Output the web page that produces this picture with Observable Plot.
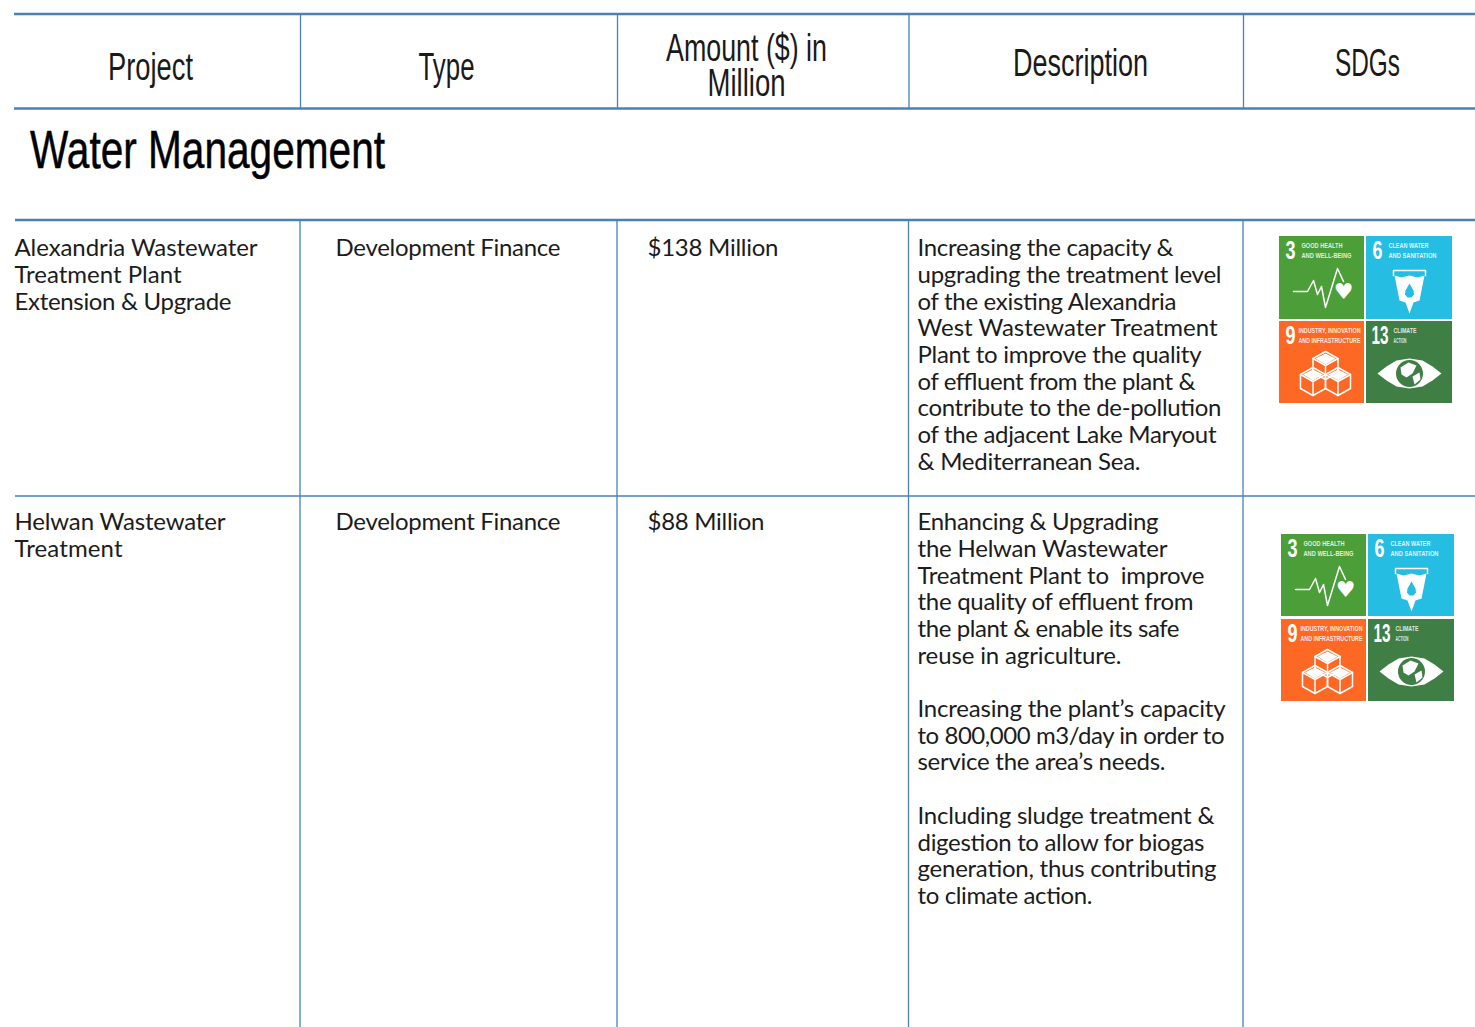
<!DOCTYPE html>
<html><head><meta charset="utf-8">
<style>html,body{margin:0;padding:0;background:#fff}svg{display:block}</style>
<script src="https://cdn.jsdelivr.net/npm/d3@7"></script>
<script src="https://cdn.jsdelivr.net/npm/@observablehq/plot@0.6"></script>
</head><body><div id="chart"></div>
<script>
const headers = ["Project","Type","Amount ($) in","Million","Description","SDGs"];
const section = "Water Management";
const project1 = ["Alexandria Wastewater","Treatment Plant","Extension & Upgrade"];
const type1 = ["Development Finance"];
const amount1 = ["$138 Million"];
const desc1 = ["Increasing the capacity &","upgrading the treatment level","of the existing Alexandria","West Wastewater Treatment","Plant to improve the quality","of effluent from the plant &","contribute to the de-pollution","of the adjacent Lake Maryout","& Mediterranean Sea."];
const project2 = ["Helwan Wastewater","Treatment"];
const type2 = ["Development Finance"];
const amount2 = ["$88 Million"];
const desc2 = ["Enhancing & Upgrading","the Helwan Wastewater","Treatment Plant to  improve","the quality of effluent from","the plant & enable its safe","reuse in agriculture.","","Increasing the plant\u2019s capacity","to 800,000 m3/day in order to","service the area\u2019s needs.","","Including sludge treatment &","digestion to allow for biogas","generation, thus contributing","to climate action."];
const sdgNumbers = ["3","6","9","13"];
const sdgLine1 = ["GOOD HEALTH","CLEAN WATER","INDUSTRY, INNOVATION","CLIMATE"];
const sdgLine2 = ["AND WELL-BEING","AND SANITATION","AND INFRASTRUCTURE","ACTION"];
const sdgColors = ["#4c9f38","#26bde2","#fd6925","#3f7e44"];

// layout of the table page: right-hand ends of every text line, then tile metrics
const W=1475,H=1027,blue="#4a80b8",ink="#1c1c1c",body="Lato";
const narrow="'Liberation Sans Narrow','Liberation Sans'";
const colLines=[300,617,908.5,1243];
const step=26.7;
const endsP1=[257,181,231],endsT=[560],endsA1=[778],endsD1=[1173,1221,1176,1217,1201,1195,1221,1216,1140];
const endsP2=[225,122],endsA2=[764],endsD2=[1158,1167,1204,1193,1179,1121,0,1225,1224,1165,0,1214,1204,1216,1092];
const textCol=(lines,ends,x,y0)=>lines.map((t,i)=>({t,x,y:y0+i*step,w:ends[i]-x})).filter(d=>d.t);
const bodyRows=[
 ...textCol(project1,endsP1,14,248),...textCol(type1,endsT,335,248),...textCol(amount1,endsA1,647,248),...textCol(desc1,endsD1,917,248),
 ...textCol(project2,endsP2,14,522),...textCol(type2,endsT,335,522),...textCol(amount2,endsA2,647,522),...textCol(desc2,endsD2,917,522)];
const headRows=[[0,150,67,85],[1,446,67,56],[2,746,48,161],[3,746,83,78],[4,1080,63,135],[5,1367,63,65]]
  .map(([i,x,y,w])=>({t:headers[i],x,y,w}));

const groups=[{x:[1279,1366],y:[236,321],w:[85,86],h:[83,82]},{x:[1281,1368],y:[534,619],w:[85,86],h:[82,82]}];
const numW=[10,10,10,17],capX=[22,22,19,27],cap1W=[41,40,62,23],cap2W=[50,48,62,13];
const tiles=groups.flatMap((g,gi)=>[0,1,2,3].map(k=>({k,gi,x:g.x[k%2],y:g.y[k>>1],w:g.w[k%2],h:g.h[k>>1],fill:sdgColors[k]})));
const at=(t,p)=>({x:t.x+p[0],y:t.y+p[1]});
const shape=(id,pts,t)=>pts.map(p=>({...at(t,p),id:`${t.gi}-${t.k}-${id}`}));
const cubes=[[46,44],[33.5,60],[58.5,60]];
const hex=[[0,-14],[12.5,-7],[12.5,7],[0,14],[-12.5,7],[-12.5,-7],[0,-14]];
const hexIn=[[-12.5,-7],[0,0],[12.5,-7],[0,0],[0,14]];
const faceTop=[[0,-12],[10,-7],[0,-1],[-10,-7]];
const strokeShapes=[],fillWhite=[],eyeWhite=[],dropBlue=[];
for(const t of tiles){
  if(t.k===0) strokeShapes.push(...shape("p",[[14,55],[28,55],[34,44],[38,58],[42,50],[46,71],[58,32],[64,45]],t));
  if(t.k===1){
    strokeShapes.push(...shape("rim",[[27,39],[27,34],[59,34],[59,39]],t));
    fillWhite.push(...shape("g",[[28,39],[35,41],[43,39],[51,41],[58,39],[53,64],[47,66],[43,77],[39,66],[33,64]],t));
    dropBlue.push(...shape("d",[[43,47],[47,54],[47.5,58],[45,61],[41,61],[38.5,58],[39,54]],t));
  }
  if(t.k===2) cubes.forEach((c,i)=>{
    fillWhite.push(...shape("f"+i,faceTop.map(p=>[c[0]+p[0],c[1]+p[1]]),t));
    strokeShapes.push(...shape("h"+i,hex.map(p=>[c[0]+p[0],c[1]+p[1]]),t));
    strokeShapes.push(...shape("i"+i,hexIn.map(p=>[c[0]+p[0],c[1]+p[1]]),t));
  });
  if(t.k===3){
    eyeWhite.push(...shape("e",[[11,52],[20,45],[30,39],[43,37],[56,39],[66,45],[75,52],[66,59],[56,65],[43,67],[30,65],[20,59]],t));
    fillWhite.push(...shape("l1",[[34,46],[42,41],[50,44],[46,52],[40,56],[35,53]],t));
    fillWhite.push(...shape("l2",[[46,55],[53,51],[54,58],[48,63]],t));
  }
}
const globes=tiles.filter(t=>t.k===3).map(t=>at(t,[43,52]));
const hearts=tiles.filter(t=>t.k===0).map(t=>at(t,[64,55]));
const nums=tiles.map(t=>({...at(t,[t.k===3?5:6,14]),t:sdgNumbers[t.k],w:numW[t.k]}));
const cap1=tiles.map(t=>({...at(t,[capX[t.k],9]),t:sdgLine1[t.k],w:cap1W[t.k]}));
const cap2=tiles.map(t=>({...at(t,[capX[t.k],19]),t:sdgLine2[t.k],w:cap2W[t.k]}));

const hRules=[{y:13.5,w:2.6,x1:14},{y:108,w:2.6,x1:14},{y:219.5,w:2.6,x1:15},{y:495.5,w:1.3,x1:15}];
const vRules=colLines.flatMap(x=>[{x,y1:14,y2:108},{x:x-0.5,y1:219,y2:H}]);

const svg=Plot.plot({
  width:W,height:H,margin:0,
  x:{domain:[0,W],range:[0,W],axis:null},
  y:{domain:[0,H],range:[0,H],axis:null},
  style:{background:"#fff"},
  marks:[
    Plot.ruleX(vRules,{x:"x",y1:"y1",y2:"y2",stroke:blue,strokeWidth:1.3}),
    Plot.ruleY(hRules,{y:"y",x1:"x1",x2:()=>W,stroke:blue,strokeWidth:"w"}),
    Plot.text(headRows,{x:"x",y:"y",text:"t",fontFamily:narrow,fontSize:39,fill:"#1a1a1a",textAnchor:"middle",lineAnchor:"middle",className:"fit"}),
    Plot.text([section],{x:()=>29.5,y:()=>150,text:d=>d,fontFamily:narrow,fontSize:54,fontWeight:400,fill:"#000",stroke:"#000",strokeWidth:0.5,textAnchor:"start",lineAnchor:"middle",className:"sec"}),
    Plot.text(bodyRows,{x:"x",y:"y",text:"t",fontFamily:body,fontSize:24,fill:ink,textAnchor:"start",lineAnchor:"middle",className:"bodytext"}),
    Plot.rect(tiles,{x1:"x",x2:d=>d.x+d.w,y1:"y",y2:d=>d.y+d.h,fill:"fill"}),
    Plot.line(eyeWhite,{x:"x",y:"y",z:"id",fill:"#fff",stroke:"none",curve:"linear-closed"}),
    Plot.dot(globes,{x:"x",y:"y",r:13.5,fill:sdgColors[3]}),
    Plot.line(fillWhite,{x:"x",y:"y",z:"id",fill:"#fff",stroke:"none",curve:"linear-closed"}),
    Plot.line(dropBlue,{x:"x",y:"y",z:"id",fill:sdgColors[1],stroke:"none",curve:"linear-closed"}),
    Plot.line(strokeShapes,{x:"x",y:"y",z:"id",stroke:"#fff",strokeWidth:1.5,fill:"none"}),
    Plot.text(hearts,{x:"x",y:"y",text:()=>"\u2665",fontFamily:"DejaVu Sans",fontSize:22,fill:"#fff",lineAnchor:"middle"}),
    Plot.text(nums,{x:"x",y:"y",text:"t",fontFamily:narrow,fontWeight:700,fontSize:25,fill:"#fff",textAnchor:"start",lineAnchor:"middle",className:"num"}),
    Plot.text(cap1,{x:"x",y:"y",text:"t",fontFamily:narrow,fontWeight:700,fontSize:8,fill:"#fff",fillOpacity:0.85,textAnchor:"start",lineAnchor:"middle",className:"cap1"}),
    Plot.text(cap2,{x:"x",y:"y",text:"t",fontFamily:narrow,fontWeight:700,fontSize:8,fill:"#fff",fillOpacity:0.85,textAnchor:"start",lineAnchor:"middle",className:"cap2"})
  ]
});
const fit=(sel,rows,adjust="spacingAndGlyphs")=>d3.select(svg).selectAll(sel+" text").each(function(_,i){
  d3.select(this).attr("textLength",rows[i]).attr("lengthAdjust",adjust);
});
fit(".fit",headRows.map(d=>d.w));
fit(".sec",[355]);
fit(".num",nums.map(d=>d.w));
fit(".cap1",cap1.map(d=>d.w));
fit(".cap2",cap2.map(d=>d.w));
fit(".bodytext",bodyRows.map(d=>d.w),"spacing");
document.getElementById("chart").append(svg);
</script></body></html>
